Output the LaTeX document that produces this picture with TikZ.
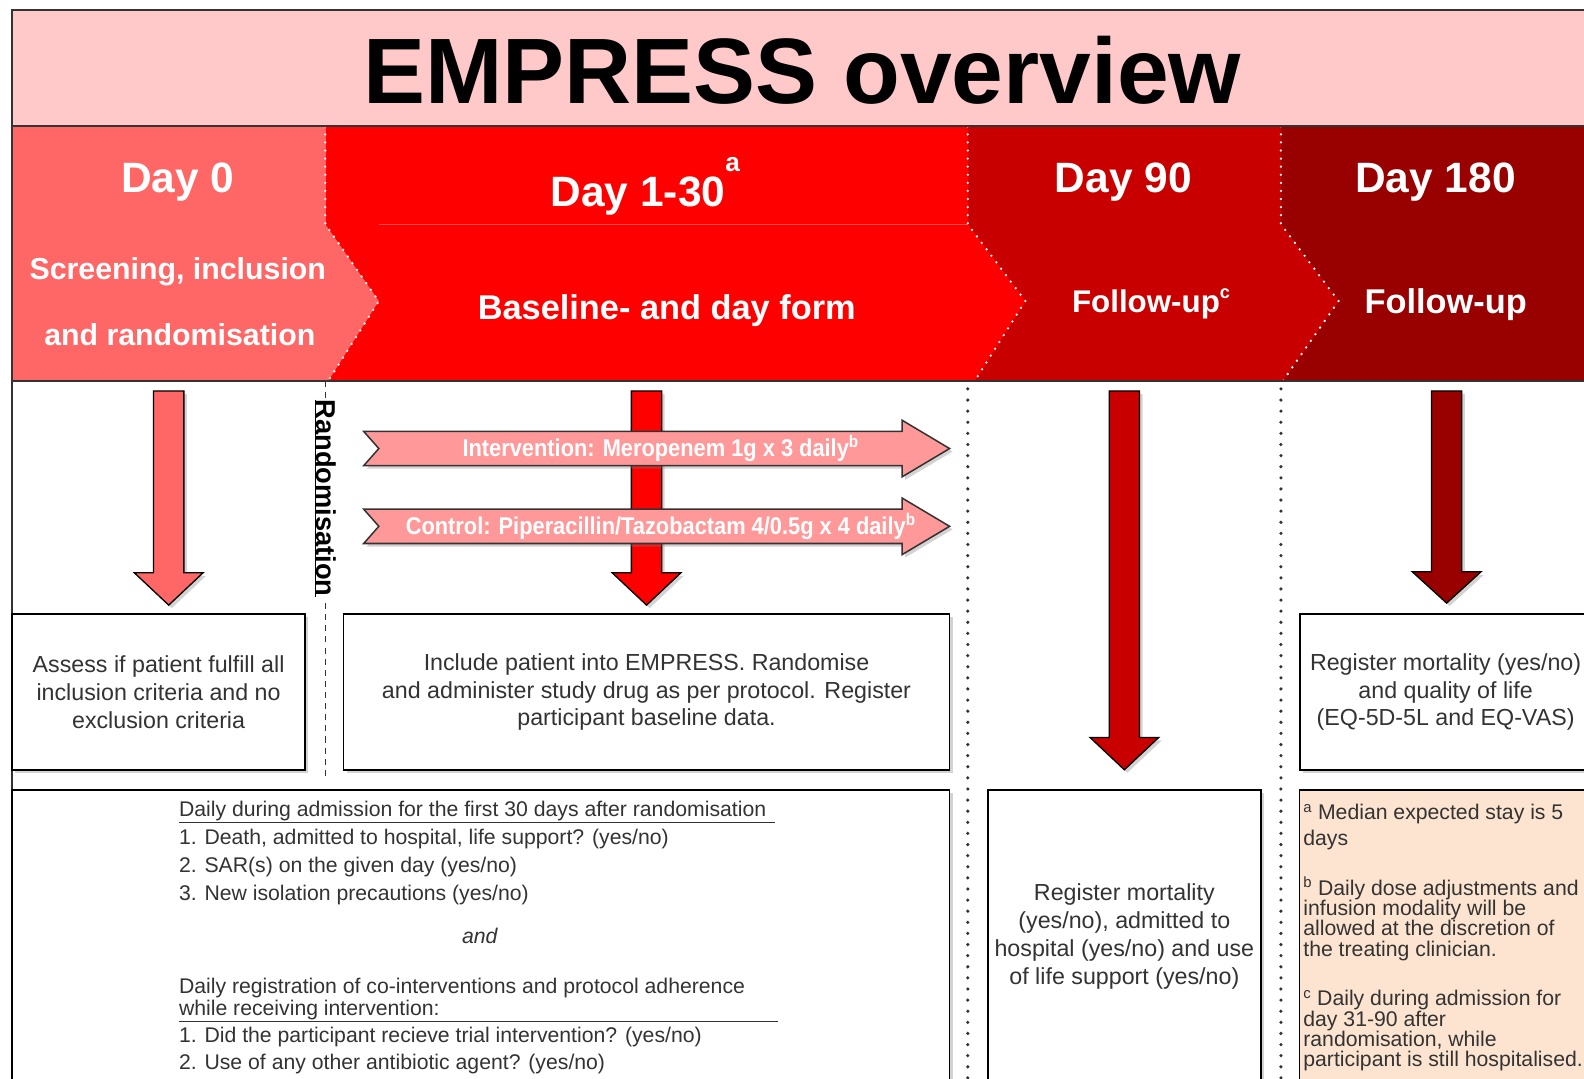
\documentclass[tikz,border=0pt]{standalone}
\usepackage{fontspec}
\setmainfont{Liberation Sans}
\newfontfamily\narrowfont[FakeStretch=0.9]{Liberation Sans}
\usetikzlibrary{shadows}

\definecolor{titlepink}{HTML}{FFC9C9}
\definecolor{dayzero}{HTML}{FF6666}
\definecolor{dayone}{HTML}{FF0000}
\definecolor{dayninety}{HTML}{C80000}
\definecolor{dayeighty}{HTML}{990000}
\definecolor{treatpink}{HTML}{FF9999}
\definecolor{notepeach}{HTML}{FCE4D0}
\definecolor{textgray}{HTML}{333333}

\newcommand{\setfs}[2]{\fontsize{#1}{#2}\selectfont}
\newcommand{\dayarrow}[5]{%
  \filldraw[downarrow, fill=#1] (#2-15,#3) -- (#2+15,#3) -- (#2+15,#4) -- (#2+34,#4)
    -- (#2,#5) -- (#2-34,#4) -- (#2-15,#4) -- cycle;}
\newcommand{\treatarrow}[3]{%
  \filldraw[treat] (360,#2-17) -- (893,#2-17) -- (893,#2-28) -- (940,#2) -- (893,#2+28)
    -- (893,#2+17) -- (360,#2+17) -- (375,#2) -- cycle;
  \node[treattext] (#1) at (654,#2) {#3};}

\begin{document}
\begin{tikzpicture}[x=1pt,y=-1pt,
  shade/.style={drop shadow={opacity=0.35,shadow xshift=3pt,shadow yshift=-3pt}},
  box/.style={draw=black, line width=1.5pt, fill=white, shade, inner sep=0pt},
  boxtext/.style={text=textgray, align=center, font=\setfs{23}{27.6}},
  linetext/.style={text=textgray, anchor=base west, inner sep=0pt, font=\setfs{21}{25}},
  note/.style={text=textgray, anchor=north west, align=left, inner sep=0pt, font=\setfs{21}{20}},
  headtext/.style={text=white, anchor=base, inner sep=0pt, font=\bfseries\setfs{42}{48}},
  subtext/.style={text=white, anchor=base, inner sep=0pt, font=\bfseries\setfs{34}{40}},
  downarrow/.style={draw=black, line width=1.3pt, shade},
  treat/.style={fill=treatpink, draw=textgray, line width=1.5pt, shade},
  treattext/.style={text=white, inner sep=0pt, font=\narrowfont\bfseries\setfs{24}{28}},
  whitedots/.style={draw=white, line width=2.5pt, line cap=round, dash pattern=on 0pt off 8pt},
  blackdots/.style={draw=textgray, line width=3.5pt, line cap=round, dash pattern=on 0pt off 11pt}]

  \useasboundingbox (0,0) rectangle (1568,1068);
  \clip (0,0) rectangle (1568,1068);

  % title band
  \fill[titlepink] (12,10) rectangle (1600,125);
  \node[font=\bfseries\setfs{92}{96}] (title) at (794,70) {EMPRESS overview};

  % header band
  \fill[dayeighty] (958,125) rectangle (1600,377);
  \fill[dayninety] (958,125) -- (1268,125) -- (1268,222) -- (1325,298) -- (1270,377) -- (958,377) -- cycle;
  \fill[dayone] (322,125) -- (958,125) -- (958,222) -- (1015,298) -- (965,377) -- (322,377) -- cycle;
  \fill[dayzero] (12,125) -- (322,125) -- (322,222) -- (375,298) -- (325,377) -- (12,377) -- cycle;
  \draw[dayone!70!white, line width=1pt] (375,222) -- (958,222);
  \draw[whitedots] (322,125) -- (322,222) -- (375,298) -- (325,377);
  \draw[whitedots] (958,125) -- (958,222) -- (1015,298) -- (965,377);
  \draw[whitedots] (1268,125) -- (1268,222) -- (1325,298) -- (1270,377);
  \draw[textgray, line width=2pt] (12,125) -- (1600,125);
  \draw[textgray, line width=2pt] (12,377) -- (1600,377);
  \draw[textgray, line width=2pt] (12,1100) -- (12,10) -- (1600,10);

  \node[headtext] (dayzerolabel) at (176,191) {Day 0};
  \node[headtext, anchor=base west] (dayonelabel) at (545,204)
    {Day 1-30\raisebox{34pt}{\setfs{26}{26}a}};
  \node[headtext] (dayninetylabel) at (1112,191) {Day 90};
  \node[headtext] (dayeightylabel) at (1421,191) {Day 180};
  \node[subtext, font=\bfseries\setfs{30}{34}] (screening) at (176,277) {Screening, inclusion};
  \node[subtext, font=\bfseries\setfs{30}{34}] (randomising) at (178,342) {and randomisation};
  \node[subtext] (baseline) at (660,316) {Baseline- and day form};
  \node[subtext, anchor=base west, font=\bfseries\setfs{31}{36}] (followninety) at (1061,309)
    {Follow-up\raisebox{14pt}{\setfs{18}{18}c}};
  \node[subtext] (followeighty) at (1431,310) {Follow-up};

  % separators
  \draw[textgray, line width=1.5pt, dash pattern=on 6pt off 5pt] (322,377) -- (322,768);
  \draw[blackdots] (958,385) -- (958,1080);
  \draw[blackdots] (1268,385) -- (1268,1080);
  \node[rotate=-90, fill=white, inner sep=1pt, font=\bfseries\setfs{27}{32}] (randlabel) at (322,493)
    {\underline{Randomisation}};

  % arrows
  \dayarrow{dayzero}{167}{387}{567}{599}
  \dayarrow{dayone}{640}{387}{567}{599}
  \dayarrow{dayninety}{1113}{387}{730}{762}
  \dayarrow{dayeighty}{1432}{387}{566}{597}
  \treatarrow{interv}{444}{Intervention: Meropenem 1g x 3 daily\textsuperscript{b}}
  \treatarrow{control}{521}{Control: Piperacillin/Tazobactam 4/0.5g x 4 daily\textsuperscript{b}}

  % boxes
  \node[box, boxtext, minimum width=290pt, minimum height=154pt] (assess) at (157,685)
    {Assess if patient fulfill all\\inclusion criteria and no\\exclusion criteria};
  \node[box, boxtext, minimum width=600pt, minimum height=154pt] (include) at (640,685)
    {Include patient into EMPRESS. Randomise\\and administer study drug as per protocol. Register\\participant baseline data.};
  \node[box, boxtext, minimum width=288pt, minimum height=154pt] (quality) at (1431,685)
    {Register mortality (yes/no)\\and quality of life\\(EQ-5D-5L and EQ-VAS)};
  \node[box, minimum width=928pt, minimum height=320pt] (daily) at (476,942) {};
  \node[box, boxtext, minimum width=270pt, minimum height=290pt] (mortality) at (1113,927)
    {Register mortality\\(yes/no), admitted to\\hospital (yes/no) and use\\of life support (yes/no)};
  \node[box, fill=notepeach, minimum width=313pt, minimum height=290pt] (notes) at (1443,927) {};

  % daily form text
  \node[linetext] (dailyhead) at (177,808)
    {\underline{\makebox[590pt][l]{Daily during admission for the first 30 days after randomisation}}};
  \node[linetext] (death) at (177,836) {1. Death, admitted to hospital, life support? (yes/no)};
  \node[linetext] (sar) at (177,864) {2. SAR(s) on the given day (yes/no)};
  \node[linetext] (isolation) at (177,891) {3. New isolation precautions (yes/no)};
  \node[linetext, anchor=base, font=\itshape\setfs{21}{25}] (andlabel) at (475,934) {and};
  \node[linetext] (cointerv) at (177,983) {Daily registration of co-interventions and protocol adherence};
  \node[linetext] (receiving) at (177,1005)
    {\underline{\makebox[593pt][l]{while receiving intervention:}}};
  \node[linetext] (trial) at (177,1032) {1. Did the participant recieve trial intervention? (yes/no)};
  \node[linetext] (antibiotic) at (177,1059) {2. Use of any other antibiotic agent? (yes/no)};

  % footnotes
  \node[note, font=\setfs{21}{25}] (notea) at (1290,796)
    {\textsuperscript{a} Median expected stay is 5\\days};
  \node[note] (noteb) at (1290,868)
    {\textsuperscript{b} Daily dose adjustments and\\infusion modality will be\\allowed at the discretion of\\the treating clinician.};
  \node[note] (notec) at (1290,980)
    {\textsuperscript{c} Daily during admission for\\day 31-90 after\\randomisation, while\\participant is still hospitalised.};

\end{tikzpicture}
\end{document}
